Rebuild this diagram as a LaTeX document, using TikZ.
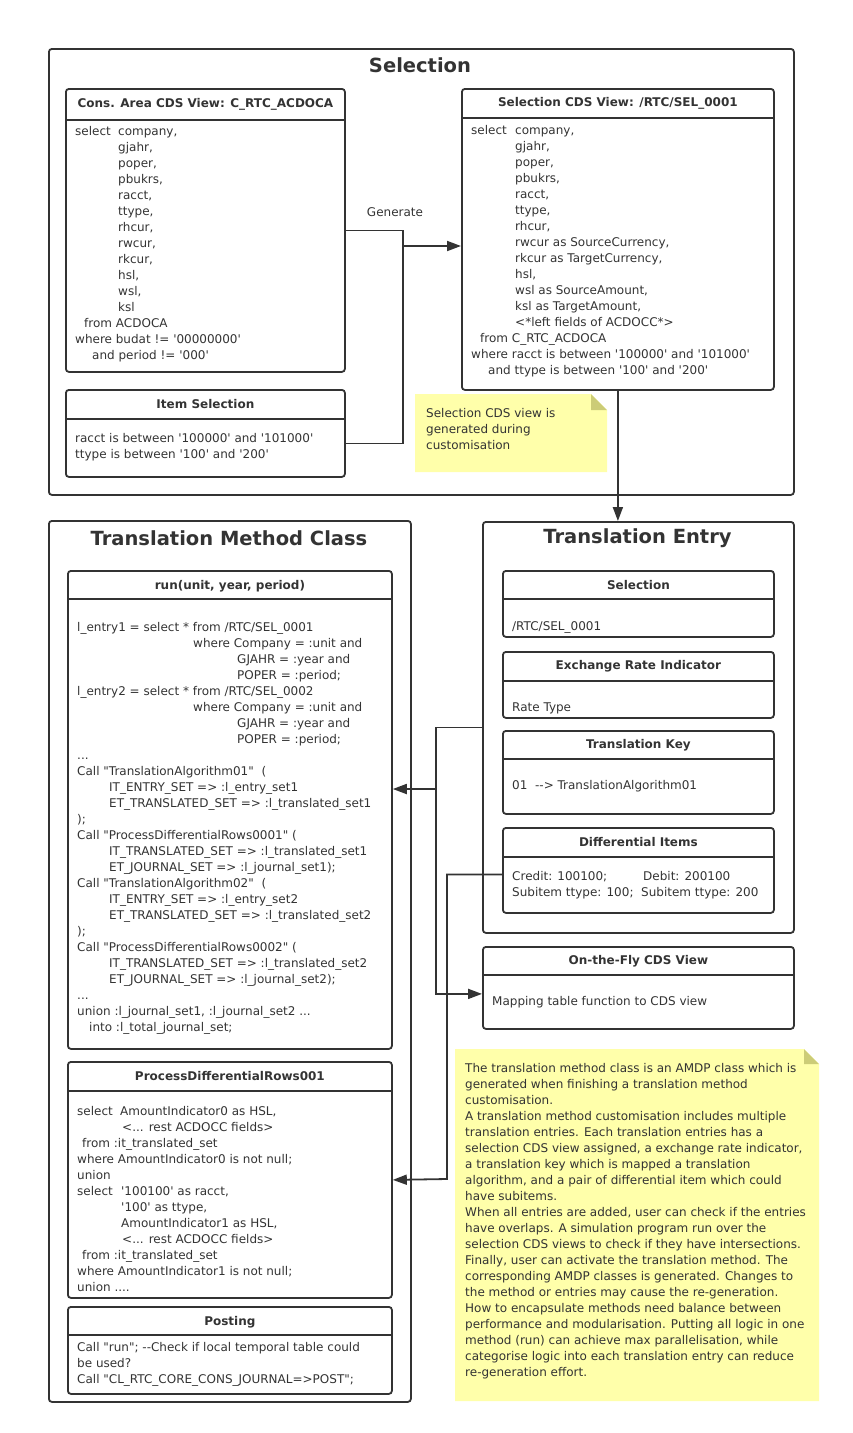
\documentclass[tikz,border=0pt]{standalone}
\usepackage{fontspec}
\setmainfont{DejaVu Sans}[Ligatures=TeXOff]
\usetikzlibrary{arrows.meta}
\definecolor{linec}{HTML}{333333}
\definecolor{notey}{HTML}{FFFFAA}
\definecolor{notefold}{HTML}{CCCC77}
\begin{document}
\begin{tikzpicture}[x=1pt,y=-1pt,
	box/.style={draw=linec,line width=1.8pt,rounded corners=3pt,anchor=north west,inner sep=0pt},
	head/.style={inner sep=0pt,text=linec,font=\bfseries\fontsize{12}{15}\selectfont},
	ttl/.style={inner sep=0pt,text=linec,font=\bfseries\fontsize{19.5}{23}\selectfont},
	body/.style={anchor=north west,align=left,inner sep=0pt,text=linec,font=\fontsize{12}{16}\selectfont},
	conn/.style={draw=linec,line width=1.8pt},
	arr/.style={conn,-{Triangle[length=14pt,width=10pt]}}]
	\useasboundingbox (0,0) rectangle (852,1433);

	\node[box,minimum width=745,minimum height=446] (sel) at (48,48) {};
	\node[ttl] (selt) at (420,65) {Selection};
	\node[box,minimum width=279,minimum height=283] (cons) at (65,88) {};
	\node[head] (consh) at ([yshift=-16pt]cons.north) {Cons. Area CDS View: C\_RTC\_ACDOCA};
	\node[body] (consb) at (75,126.5) {\makebox[43pt][l]{select}company,\\
		\hspace*{43pt}gjahr,\\
		\hspace*{43pt}poper,\\
		\hspace*{43pt}pbukrs,\\
		\hspace*{43pt}racct,\\
		\hspace*{43pt}ttype,\\
		\hspace*{43pt}rhcur,\\
		\hspace*{43pt}rwcur,\\
		\hspace*{43pt}rkcur,\\
		\hspace*{43pt}hsl,\\
		\hspace*{43pt}wsl,\\
		\hspace*{43pt}ksl\\
		\hspace*{9pt}from ACDOCA\\
		where budat != '00000000'\\
		\hspace*{17pt}and period != '000'};
	\node[box,minimum width=279,minimum height=87] (item) at (65,389) {};
	\node[head] (itemh) at ([yshift=-15pt]item.north) {Item Selection};
	\node[body] (itemb) at (75,433) {racct is between '100000' and '101000'\\
		ttype is between '100' and '200'};
	\node[box,minimum width=312,minimum height=301] (selcds) at (461,88) {};
	\node[head] (selcdsh) at ([yshift=-15pt]selcds.north) {Selection CDS View: /RTC/SEL\_0001};
	\node[body] (selcdsb) at (471,125) {\makebox[44pt][l]{select}company,\\
		\hspace*{44pt}gjahr,\\
		\hspace*{44pt}poper,\\
		\hspace*{44pt}pbukrs,\\
		\hspace*{44pt}racct,\\
		\hspace*{44pt}ttype,\\
		\hspace*{44pt}rhcur,\\
		\hspace*{44pt}rwcur as SourceCurrency,\\
		\hspace*{44pt}rkcur as TargetCurrency,\\
		\hspace*{44pt}hsl,\\
		\hspace*{44pt}wsl as SourceAmount,\\
		\hspace*{44pt}ksl as TargetAmount,\\
		\hspace*{44pt}<*left fields of ACDOCC*>\\
		\hspace*{9pt}from C\_RTC\_ACDOCA\\
		where racct is between '100000' and '101000'\\
		\hspace*{17pt}and ttype is between '100' and '200'};
	\fill[notey] (415,394) -- (591,394) -- (607,410) -- (607,472) -- (415,472) -- cycle;
	\fill[notefold] (591,394) -- (591,410) -- (607,410) -- cycle;
	\node[body] (selnote) at (426,408) {Selection CDS view is\\ generated during\\ customisation};

	\node[box,minimum width=362,minimum height=881] (tmc) at (48,520) {};
	\node[ttl] (tmct) at (229,538) {Translation Method Class};
	\node[box,minimum width=324,minimum height=478] (run) at (67,570) {};
	\node[head] (runh) at ([yshift=-16pt]run.north) {run(unit, year, period)};
	\node[body] (runb) at (77,622) {l\_entry1 = select * from /RTC/SEL\_0001\\
		\hspace*{116pt}where Company = :unit and\\
		\hspace*{160pt}GJAHR = :year and\\
		\hspace*{160pt}POPER = :period;\\
		l\_entry2 = select * from /RTC/SEL\_0002\\
		\hspace*{116pt}where Company = :unit and\\
		\hspace*{160pt}GJAHR = :year and\\
		\hspace*{160pt}POPER = :period;\\
		...\\
		Call "TranslationAlgorithm01"\ \ (\\
		\hspace*{32pt}IT\_ENTRY\_SET => :l\_entry\_set1\\
		\hspace*{32pt}ET\_TRANSLATED\_SET => :l\_translated\_set1\\
		);\\
		Call "ProcessDifferentialRows0001" (\\
		\hspace*{32pt}IT\_TRANSLATED\_SET => :l\_translated\_set1\\
		\hspace*{32pt}ET\_JOURNAL\_SET => :l\_journal\_set1);\\
		Call "TranslationAlgorithm02"\ \ (\\
		\hspace*{32pt}IT\_ENTRY\_SET => :l\_entry\_set2\\
		\hspace*{32pt}ET\_TRANSLATED\_SET => :l\_translated\_set2\\
		);\\
		Call "ProcessDifferentialRows0002" (\\
		\hspace*{32pt}IT\_TRANSLATED\_SET => :l\_translated\_set2\\
		\hspace*{32pt}ET\_JOURNAL\_SET => :l\_journal\_set2);\\
		...\\
		union :l\_journal\_set1, :l\_journal\_set2 ...\\
		\hspace*{12pt}into :l\_total\_journal\_set;};
	\node[box,minimum width=324,minimum height=236] (pdr) at (67,1061) {};
	\node[head] (pdrh) at ([yshift=-15pt]pdr.north) {ProcessDifferentialRows001};
	\node[body] (pdrb) at (77,1106) {\makebox[43pt][l]{select}AmountIndicator0 as HSL,\\
		\hspace*{45pt}<... rest ACDOCC fields>\\
		\hspace*{5pt}from :it\_translated\_set\\
		where AmountIndicator0 is not null;\\
		union\\
		\makebox[44pt][l]{select}'100100' as racct,\\
		\hspace*{44pt}'100' as ttype,\\
		\hspace*{44pt}AmountIndicator1 as HSL,\\
		\hspace*{45pt}<... rest ACDOCC fields>\\
		\hspace*{5pt}from :it\_translated\_set\\
		where AmountIndicator1 is not null;\\
		union ....};
	\node[box,minimum width=324,minimum height=87] (post) at (67,1306) {};
	\node[head] (posth) at ([yshift=-16pt]post.north) {Posting};
	\node[body] (postb) at (77,1342) {Call "run"; --Check if local temporal table could\\
		be used?\\
		Call "CL\_RTC\_CORE\_CONS\_JOURNAL=>POST";};

	\node[box,minimum width=311,minimum height=411] (te) at (482,521) {};
	\node[ttl] (tet) at (637.5,538) {Translation Entry};
	\node[box,minimum width=271,minimum height=66] (tsel) at (502,570) {};
	\node[head] (tselh) at ([yshift=-15pt]tsel.north) {Selection};
	\node[body] (tselb) at (512,621) {/RTC/SEL\_0001};
	\node[box,minimum width=271,minimum height=66] (eri) at (502,651) {};
	\node[head] (erih) at ([yshift=-15pt]eri.north) {Exchange Rate Indicator};
	\node[body] (erib) at (512,703) {Rate Type};
	\node[box,minimum width=271,minimum height=83] (tkey) at (502,730) {};
	\node[head] (tkeyh) at ([yshift=-15pt]tkey.north) {Translation Key};
	\node[body] (tkeyb) at (512,780) {01\ \ --> TranslationAlgorithm01};
	\node[box,minimum width=271,minimum height=85] (diff) at (502,827) {};
	\node[head] (diffh) at ([yshift=-15pt]diff.north) {Differential Items};
	\node[body] (diffb) at (512,871) {\makebox[131pt][l]{Credit: 100100;}Debit: 200100\\
		\makebox[129pt][l]{Subitem ttype: 100;}Subitem ttype: 200};
	\node[box,minimum width=311,minimum height=82] (otf) at (482,946) {};
	\node[head] (otfh) at ([yshift=-15pt]otf.north) {On-the-Fly CDS View};
	\node[body] (otfb) at (492,996) {Mapping table function to CDS view};

	\fill[notey] (455,1049) -- (804,1049) -- (819,1064) -- (819,1401) -- (455,1401) -- cycle;
	\fill[notefold] (804,1049) -- (804,1064) -- (819,1064) -- cycle;
	\node[body] (bignote) at (465,1063) {The translation method class is an AMDP class which is\\
		generated when finishing a translation method\\
		customisation.\\
		A translation method customisation includes multiple\\
		translation entries. Each translation entries has a\\
		selection CDS view assigned, a exchange rate indicator,\\
		a translation key which is mapped a translation\\
		algorithm, and a pair of differential item which could\\
		have subitems.\\
		When all entries are added, user can check if the entries\\
		have overlaps. A simulation program run over the\\
		selection CDS views to check if they have intersections.\\
		Finally, user can activate the translation method. The\\
		corresponding AMDP classes is generated. Changes to\\
		the method or entries may cause the re-generation.\\
		How to encapsulate methods need balance between\\
		performance and modularisation. Putting all logic in one\\
		method (run) can achieve max parallelisation, while\\
		categorise logic into each translation entry can reduce\\
		re-generation effort.};

	\foreach \b/\h in {cons/32,item/30,selcds/30,run/29,pdr/30,post/29,tsel/29,eri/30,tkey/29,diff/30,otf/29}
		\draw[conn] ([yshift=-\h pt]\b.north west) -- ([yshift=-\h pt]\b.north east);

	\coordinate (gen) at (403,246);
	\coordinate (tj) at (436,789);
	\coordinate (dj) at (447,1179);
	\draw[conn] (cons.east) -| (gen);
	\draw[conn] ([yshift=-10pt]item.east) -| (gen);
	\draw[arr] (gen) -- (gen -| selcds.west);
	\node[body,anchor=center] (genl) at (395,212) {Generate};
	\draw[arr] (selcds.south) -- (selcds.south |- te.north);
	\draw[arr] (te.west) -| (tj) |- ([yshift=-6pt]otf.west);
	\draw[arr] (tj) -- (tj -| run.east);
	\draw[arr] ([yshift=-4pt]diff.west) -| (dj) -- (pdr.east);
\end{tikzpicture}
\end{document}
